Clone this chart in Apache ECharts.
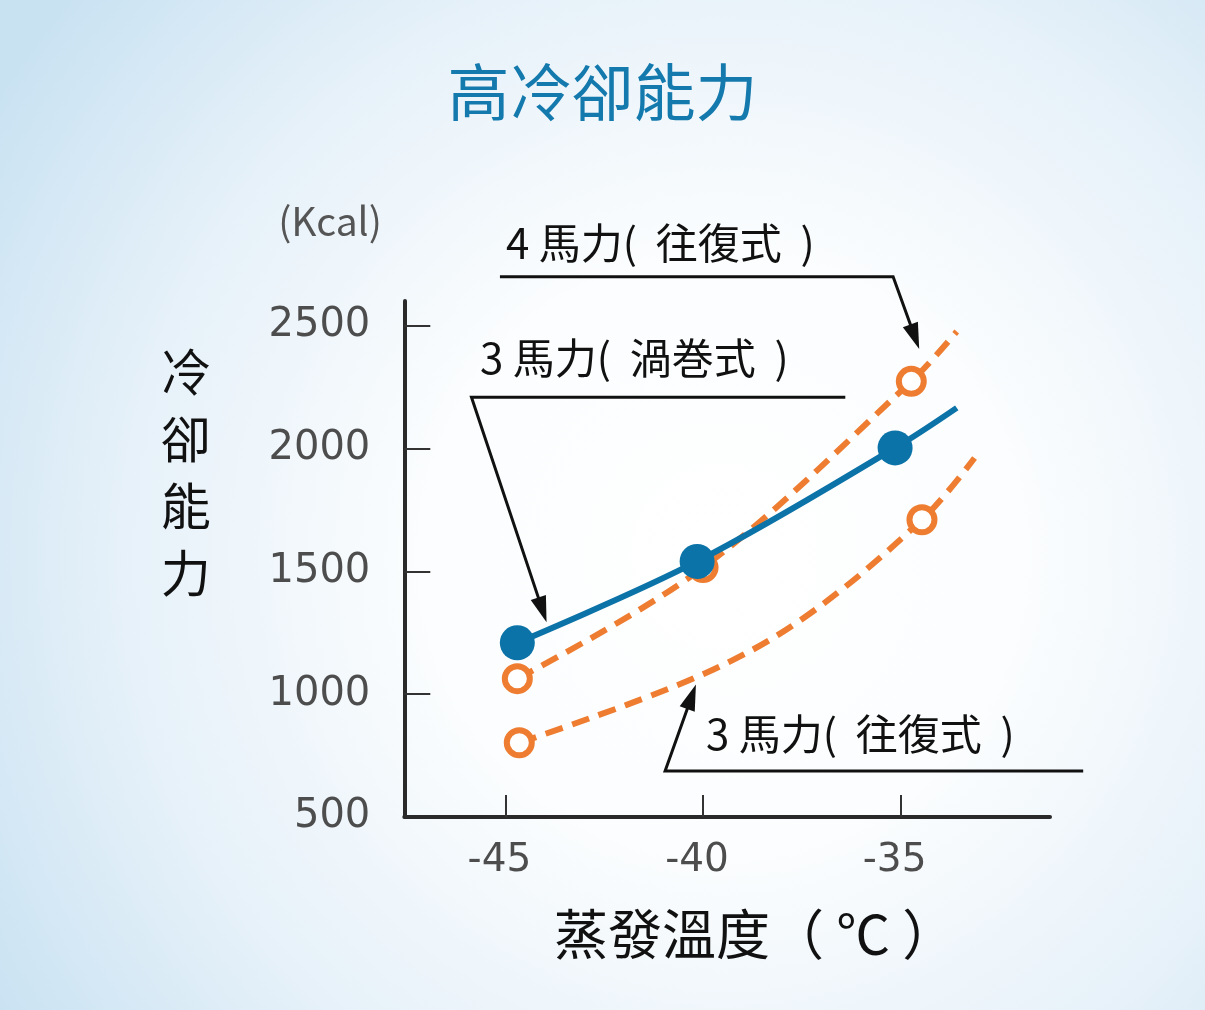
<!DOCTYPE html>
<html><head><meta charset="utf-8">
<script src="https://cdn.jsdelivr.net/npm/echarts@6/dist/echarts.min.js"></script>
<style>html,body{margin:0;padding:0;background:#fff}#c{width:1205px;height:1010px;}</style>
</head><body><div id="c"></div>
<script>
// ---- data ----
const xTickValues = [-45, -40, -35];
const yLabelValues = [500, 1000, 1500, 2000, 2500];
const yTickValues = [1000, 1500, 2000, 2500];

// 3馬力(渦巻式)
const scroll3X = [-44.70, -40.15, -35.14, -33.58];
const scroll3Y = [1209, 1540, 2002, 2165];
const scroll3Marker = [true, true, true, false];

// 4馬力(往復式)
const recip4X = [-44.70, -40.00, -34.73, -33.58];
const recip4Y = [1063, 1515, 2273, 2476];
const recip4Marker = [true, true, true, false];

// 3馬力(往復式)
const recip3X = [-44.65, -40.20, -37.50, -34.46, -33.13];
const recip3Y = [802, 1067, 1305, 1710, 1961];
const recip3Marker = [true, false, false, true, false];

const labels = ['4 馬力(  往復式  )', '3 馬力(  渦巻式  )', '3 馬力(  往復式  )'];

// annotation geometry (data coordinates)
const annotations = [
  { text: labels[0], textAt: [-41.08, 2837], path: [[-45.14, 2699], [-35.19, 2699]], tip: [-34.53, 2405] },
  { text: labels[1], textAt: [-41.74, 2369], path: [[-36.40, 2208], [-45.86, 2208]], tip: [-43.96, 1293] },
  { text: labels[2], textAt: [-36.02, 836],  path: [[-30.38, 687],  [-40.96, 687]],  tip: [-40.18, 1039] }
];

const ORANGE = '#ee7d31';
const BLUE = '#0b73a7';

function build(xs, ys, marks) {
  return xs.map((x, i) => marks[i] ? { value: [x, ys[i]] } : { value: [x, ys[i]], symbol: 'none' });
}

const chart = echarts.init(document.getElementById('c'), null, { renderer: 'canvas' });

const option = {
  animation: false,
  backgroundColor: {
    type: 'radial', x: 0.6, y: 0.55, r: 0.85,
    colorStops: [
      { offset: 0, color: '#ffffff' },
      { offset: 0.35, color: '#fbfdfe' },
      { offset: 0.7, color: '#e6f1f9' },
      { offset: 1, color: '#c9e2f2' }
    ]
  },
  title: {
    text: '高冷卻能力', left: 'center', top: 56,
    textStyle: { fontSize: 62, fontWeight: 'normal', color: '#1479ad', fontFamily: '"Noto Sans CJK TC"' }
  },
  grid: { left: 404.3, right: 155, top: 301, bottom: 193, containLabel: false },
  xAxis: {
    type: 'value', min: -47.56, max: -31.22,
    name: '蒸發溫度（ ℃ ）', nameLocation: 'middle', nameGap: 90,
    nameTextStyle: { fontSize: 54, color: '#111', fontFamily: '"Noto Sans CJK TC"', padding: [0, 0, 0, 56] },
    axisLine: { show: true, lineStyle: { color: '#2a2a2a', width: 4 } },
    axisTick: { show: true, inside: true, length: 22, customValues: xTickValues, lineStyle: { color: '#333', width: 2 } },
    axisLabel: { customValues: xTickValues, margin: 24, fontSize: 39, color: '#4d4d4d', fontFamily: '"DejaVu Sans"',
      padding: [0, 12, 0, 0] },
    splitLine: { show: false }
  },
  yAxis: {
    type: 'value', min: 500, max: 2600,
    axisLine: { show: true, lineStyle: { color: '#2a2a2a', width: 4 } },
    axisTick: { show: true, inside: true, length: 26, customValues: yTickValues, lineStyle: { color: '#333', width: 2 } },
    axisLabel: { customValues: yLabelValues, margin: 34, fontSize: 40, color: '#4d4d4d', fontFamily: '"DejaVu Sans"',
      formatter: v => String(v) },
    splitLine: { show: false }
  },
  series: [
    {
      name: labels[2], type: 'line', smooth: 0.35,
      data: build(recip3X, recip3Y, recip3Marker),
      symbol: 'circle', symbolSize: 25,
      lineStyle: { color: ORANGE, width: 6, type: [18, 10] },
      itemStyle: { color: '#ffffff', borderColor: ORANGE, borderWidth: 6 },
      z: 2
    },
    {
      name: labels[0], type: 'line', smooth: 0.35,
      data: build(recip4X, recip4Y, recip4Marker),
      symbol: 'circle', symbolSize: 25,
      lineStyle: { color: ORANGE, width: 6, type: [18, 10] },
      itemStyle: { color: '#ffffff', borderColor: ORANGE, borderWidth: 6 },
      z: 3
    },
    {
      name: labels[1], type: 'line', smooth: 0.35,
      data: build(scroll3X, scroll3Y, scroll3Marker),
      symbol: 'circle', symbolSize: 35,
      lineStyle: { color: BLUE, width: 6 },
      itemStyle: { color: BLUE },
      z: 4
    }
  ]
};
chart.setOption(option);

function px(p) { return chart.convertToPixel({ gridIndex: 0 }, p); }

const graphics = [];
const kcal = px([-49.44, 2926]);
graphics.push({ type: 'text', style: { text: '(Kcal)', x: kcal[0], y: kcal[1], align: 'center', verticalAlign: 'middle',
  font: '39px "Noto Sans CJK JP"', fill: '#555' } });

const yName = px([-53.09, 1902]);
graphics.push({ type: 'text', style: { text: '冷\n卻\n能\n力', x: yName[0], y: yName[1], align: 'center', verticalAlign: 'middle',
  font: '50px "Noto Sans CJK TC"', lineHeight: 67, fill: '#111' } });

annotations.forEach(a => {
  const t = px(a.textAt);
  graphics.push({ type: 'text', z: 10, style: { text: a.text, x: t[0], y: t[1], align: 'center', verticalAlign: 'middle',
    font: '42px "Noto Sans CJK JP"', fill: '#111' } });
  const pts = a.path.map(px);
  const tip = px(a.tip);
  const corner = pts[pts.length - 1];
  const dx = tip[0] - corner[0], dy = tip[1] - corner[1];
  const len = Math.sqrt(dx * dx + dy * dy);
  const ux = dx / len, uy = dy / len;
  const L = 26, W = 8;
  const base = [tip[0] - ux * L, tip[1] - uy * L];
  graphics.push({ type: 'polyline', z: 10, shape: { points: pts.concat([[tip[0] - ux * L * 0.7, tip[1] - uy * L * 0.7]]) },
    style: { stroke: '#111', lineWidth: 3, fill: null, lineJoin: 'miter' } });
  graphics.push({ type: 'polygon', z: 10, shape: { points: [tip, [base[0] - uy * W, base[1] + ux * W], [base[0] + uy * W, base[1] - ux * W]] },
    style: { fill: '#111' } });
});

chart.setOption({ graphic: graphics });
</script>
</body></html>
